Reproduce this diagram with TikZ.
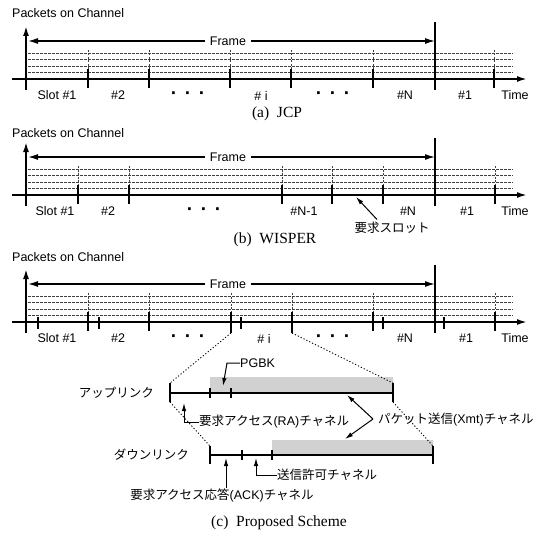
\documentclass[tikz,border=0pt]{standalone}
\usepackage{fontspec}
\setmainfont{Liberation Serif}
\setsansfont{Liberation Sans}
\newfontfamily\jpf{Noto Sans CJK JP}
\usetikzlibrary{arrows.meta}
\newcommand\J[1]{{\jpf #1}}
\newcommand\threedots{{\fontsize{19}{20}\selectfont\bfseries ·\hspace{7.6pt}·\hspace{7.6pt}·}}
\tikzset{
  lab/.style={font=\sffamily\fontsize{12.5}{14}\selectfont, inner sep=0pt},
  captext/.style={font=\rmfamily\fontsize{15.5}{18}\selectfont, inner sep=0pt},
  axisline/.style={line width=1.8pt, -{Latex[length=10pt,width=6pt]}},
  frarrow/.style={line width=1.4pt, {Latex[length=10pt,width=6pt]}-{Latex[length=10pt,width=6pt]}},
  bigtick/.style={line width=1.8pt},
  smalltick/.style={line width=1.5pt},
  hdash/.style={line width=0.6pt, black!75, dash pattern=on 2.5pt off 1.5pt},
  vdash/.style={line width=0.6pt, black!75, dash pattern=on 2pt off 1.5pt},
  dotline/.style={line width=0.9pt, dash pattern=on 1.2pt off 2pt},
  arr/.style={line width=1pt, -{Latex[length=8pt,width=4.5pt]}},
  chan/.style={line width=1.8pt},
  greyband/.style={fill=black!18},
}
% #1 = prefix, ticks in #2
\newcommand\panelbase[2]{%
  \coordinate (#1ax0) at (12,0);
  \coordinate (#1ax1) at (527,0);
  \coordinate (#1ay0) at (26,11);
  \coordinate (#1ay1) at (26,-53);
  \foreach \yy in {-26,-19.5,-13,-6.5} \draw[hdash] (28,\yy) -- (513,\yy);
  \foreach \x in {#2} {
    \draw[vdash] (\x,-29) -- (\x,-10);
    \draw[bigtick] (\x,-10) -- (\x,9);
  }
  \draw[axisline] (#1ax0) -- (#1ax1);
  \draw[axisline] (#1ay0) -- (#1ay1);
  \coordinate (#1fb0) at (435,-57);
  \coordinate (#1fb1) at (435,11);
  \draw[bigtick] (#1fb0) -- (#1fb1);
  \coordinate (#1fl) at (28,-38);
  \coordinate (#1fr) at (435,-38);
  \draw[frarrow] (#1fl) -- (#1fr);
  \node[lab, fill=white, inner xsep=5pt, inner ysep=1pt] (#1frame) at (228,-38) {Frame};
  \node[lab] (#1time) at (515,16.5) {Time};
}
\begin{document}
\begin{tikzpicture}[x=1pt,y=-1pt]
\useasboundingbox (0,0) rectangle (545,532);

% ---------------- (a) JCP ----------------
\node[lab, anchor=west] (ta) at (12,13) {Packets on Channel};
\begin{scope}[shift={(0,79)}]
  \panelbase{a}{88,149,230,291,373,494}
  \node[lab] (a1) at (57,16.5) {Slot \#1};
  \node[lab] (a2) at (118,16.5) {\#2};
  \node[lab] (ad1) at (188,16.5) {\threedots};
  \node[lab] (ai) at (261,16.5) {\# i};
  \node[lab] (ad2) at (333,16.5) {\threedots};
  \node[lab] (aN) at (405,16.5) {\#N};
  \node[lab] (a1b) at (465,16.5) {\#1};
\end{scope}
\node[captext] (capa) at (277,114) {(a)\ \ JCP};

% ---------------- (b) WISPER ----------------
\node[lab, anchor=west] (tb) at (12,133) {Packets on Channel};
\begin{scope}[shift={(0,195)}]
  \panelbase{b}{78,129,282,332,383,495}
  \node[lab] (b1) at (55,16.5) {Slot \#1};
  \node[lab] (b2) at (108,16.5) {\#2};
  \node[lab] (bd) at (204,16.5) {\threedots};
  \node[lab] (bN1) at (304,16.5) {\#N-1};
  \node[lab] (bN) at (408,16.5) {\#N};
  \node[lab] (b1b) at (467,16.5) {\#1};
  \node[lab] (breq) at (392,33) {\J{要求スロット}};
  \coordinate (breqT) at (356,2);
  \draw[arr] (377,24.5) -- (breqT);
\end{scope}
\node[captext] (capb) at (275,240) {(b)\ \ WISPER};

% ---------------- (c) Proposed ----------------
\node[lab, anchor=west] (tc) at (12,257) {Packets on Channel};
\begin{scope}[shift={(0,322)}]
  \panelbase{c}{88,149,231,292,373,495}
  \foreach \x in {38,99,241,383,444} \draw[smalltick] (\x,-5) -- (\x,7);
  \draw[bigtick] (231,9) -- (231,11);
  \draw[bigtick] (292,9) -- (292,11);
  \node[lab] (c1) at (57,16.5) {Slot \#1};
  \node[lab] (c2) at (118,16.5) {\#2};
  \node[lab] (cd1) at (188,16.5) {\threedots};
  \node[lab] (ci) at (264,16.5) {\# i};
  \node[lab] (cd2) at (333,16.5) {\threedots};
  \node[lab] (cN) at (405,16.5) {\#N};
  \node[lab] (c1b) at (466,16.5) {\#1};
  \coordinate (cL) at (231,11);
  \coordinate (cR) at (292,11);
\end{scope}

% uplink
\node[lab, anchor=east] (up) at (154,393) {\J{アップリンク}};
\fill[greyband] (210,377) rectangle (393,393);
\coordinate (ul0) at (170,393);
\coordinate (ul1) at (393,393);
\draw[chan] (ul0) -- (ul1);
\coordinate (ulsT) at (170,383);
\coordinate (ulsB) at (170,402);
\coordinate (uleT) at (393,383);
\coordinate (uleB) at (393,402);
\draw[bigtick] (ulsT) -- (ulsB);
\draw[bigtick] (uleT) -- (uleB);
\draw[smalltick] (210,388) -- (210,398);
\draw[smalltick] (231,388) -- (231,398);

% downlink
\node[lab, anchor=east] (down) at (189,455) {\J{ダウンリンク}};
\fill[greyband] (272,440) rectangle (433,455);
\coordinate (dl0) at (210,455);
\coordinate (dl1) at (433,455);
\draw[chan] (dl0) -- (dl1);
\coordinate (dlsT) at (210,446);
\coordinate (dlsB) at (210,464);
\coordinate (dleT) at (433,446);
\coordinate (dleB) at (433,464);
\draw[bigtick] (dlsT) -- (dlsB);
\draw[bigtick] (dleT) -- (dleB);
\draw[smalltick] (242,450) -- (242,460);
\draw[smalltick] (272,450) -- (272,460);

% zoom lines
\draw[dotline] (cL) -- (ulsT);
\draw[dotline] (cR) -- (uleT);
\draw[dotline] (ulsB) -- (dlsT);
\draw[dotline] (uleB) -- (dleT);

% labels with arrows
\node[lab, anchor=west] (pgbk) at (240,363) {PGBK};
\coordinate (pgbkT) at (223,386);
\draw[arr] (pgbk.west) -- (227,363) -- (pgbkT);

\node[lab, anchor=west] (ra) at (199,422) {\J{要求アクセス}(RA)\J{チャネル}};
\coordinate (raT) at (184,403);
\draw[arr] (ra.west) -- (184,422) -- (raT);

\node[lab, anchor=west] (xmt) at (378,420) {\J{パケット送信}(Xmt)\J{チャネル}};
\coordinate (xv) at (373,419);
\coordinate (xu) at (347,395);
\coordinate (xd) at (345,439);
\draw[arr] (xv) -- (xu);
\draw[arr] (xv) -- (xd);

\node[lab, anchor=west] (grant) at (277,475) {\J{送信許可チャネル}};
\coordinate (grantT) at (256,458);
\draw[arr] (grant.west) -- (256,475) -- (grantT);

\node[lab] (ack) at (222,495) {\J{要求アクセス応答}(ACK)\J{チャネル}};
\coordinate (ackT) at (226,458);
\draw[arr] (ack.north -| ackT) -- (ackT);

\node[captext] (capc) at (279,523) {(c)\ \ Proposed Scheme};
\end{tikzpicture}
\end{document}
